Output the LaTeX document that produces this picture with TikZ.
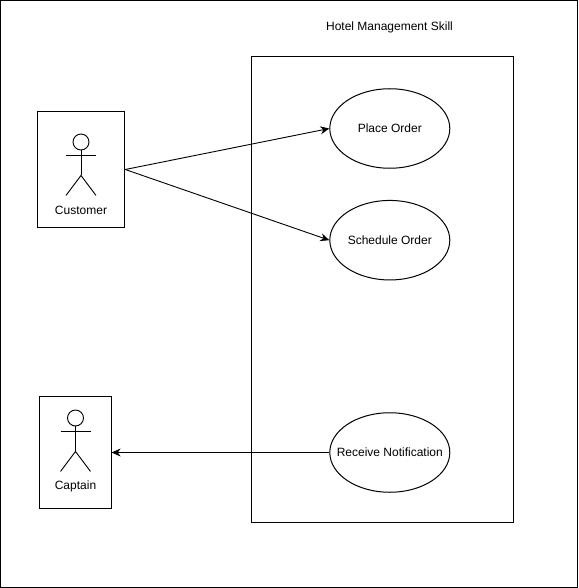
\documentclass[tikz,border=0pt]{standalone}
\usepackage{fontspec}
\setmainfont{Liberation Sans}
\usetikzlibrary{arrows.meta,positioning,shapes.geometric}
\tikzset{
  actorbox/.style={rectangle,draw=black,line width=1pt,inner sep=0pt},
  usecase/.style={ellipse,draw=black,line width=1pt,fill=white,
                  inner xsep=-25pt,inner ysep=0pt,
                  minimum width=120pt,minimum height=79.5pt,
                  font=\fontsize{12}{14}\selectfont,align=center},
  lab/.style={font=\fontsize{12}{14}\selectfont,inner sep=0pt},
  arr/.style={-{Stealth[length=9pt,width=8pt]},line width=0.9pt},
  stick/.style={line width=0.9pt},
}
\begin{document}
\begin{tikzpicture}[x=1pt,y=-1pt]
    \useasboundingbox (0,0) rectangle (578,588);
    \node[actorbox,minimum width=576.5pt,minimum height=586.5pt] (frame) at (289,294) {};
    \node[lab] (title) at (389.5,27) {Hotel Management Skill};
    \node[actorbox,minimum width=262pt,minimum height=465.5pt] (system) at (382,289.5) {};
    % use cases
    \node[usecase] (place) at (389.8,128.5) {Place Order};
    \node[usecase] (schedule) at (389.8,240.2) {Schedule Order};
    \node[usecase] (receive) at (389.8,452.5) {Receive Notification};
    % actors
    \node[actorbox,minimum width=87.5pt,minimum height=116pt] (customer) at (81,169.5) {};
    \node[actorbox,minimum width=71.5pt,minimum height=111.5pt] (captain) at (75.4,452.5) {};
    \foreach \nm/\x/\y/\lab in {custfig/81/142/Customer, captfig/75.5/418/Captain}{
      \node[circle,draw=black,line width=0.9pt,minimum size=16pt,inner sep=0pt] (\nm) at (\x,\y) {};
      \draw[stick] (\nm.south) -- ++(0,25) coordinate (\nm hip);
      \draw[stick] ([xshift=-15pt,yshift=-5pt]\nm.south) -- ++(30,0);
      \draw[stick] ([xshift=-15pt,yshift=-20pt]\nm hip) -- (\nm hip) -- ([xshift=15pt,yshift=-20pt]\nm hip);
      \node[lab] (\nm label) at (\x,\y+68) {\lab};
    }
    % connectors
    \draw[arr] (customer.east) -- (place.west);
    \draw[arr] (customer.east) -- (schedule.west);
    \draw[arr] (receive.west) -- (captain.east);
\end{tikzpicture}
\end{document}
